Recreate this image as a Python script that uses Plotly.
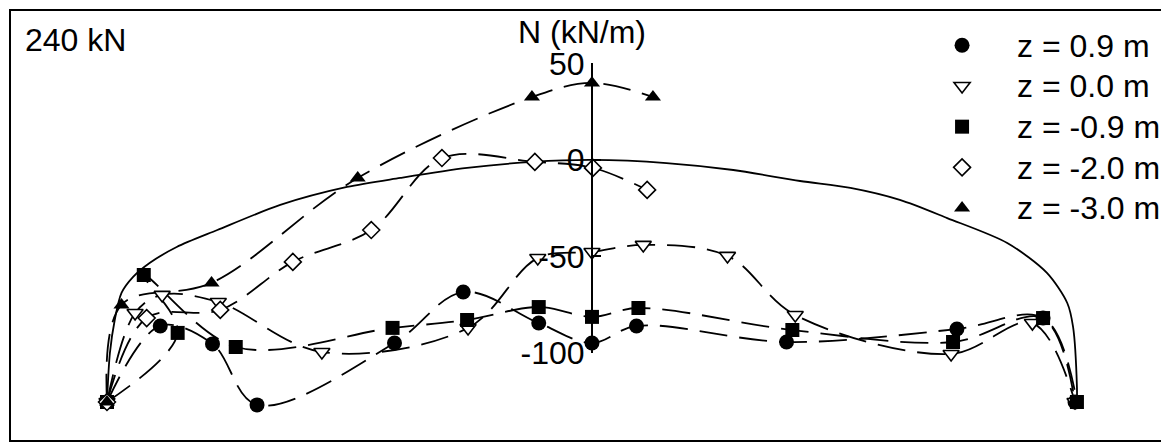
import plotly.graph_objects as go

# ---- data: position along the lining span (m) and normal force N (kN/m) ----
x_z09 = [-5.01, -4.46, -3.92, -3.46, -2.04, -1.33, -0.55, 0.00, 0.46, 2.01, 3.77, 4.66, 4.99]
n_z09 = [-125.4, -86.0, -95.3, -126.9, -94.8, -68.4, -84.5, -94.8, -86.0, -94.3, -87.6, -81.9, -125.4]

x_z00 = [-5.01, -4.72, -4.44, -3.86, -2.79, -1.28, -0.56, 0.00, 0.53, 1.40, 2.10, 3.71, 4.55, 4.99]
n_z00 = [-125.4, -79.3, -69.9, -73.6, -99.5, -87.0, -50.8, -47.7, -44.0, -49.7, -80.3, -100.5, -84.5, -125.4]

x_zm09 = [-5.01, -4.28, -4.63, -3.68, -2.06, -1.29, -0.55, 0.00, 0.48, 2.07, 3.73, 4.66, 5.01]
n_zm09 = [-125.4, -89.6, -59.6, -96.9, -87.0, -82.9, -76.2, -81.3, -76.7, -88.1, -94.3, -81.9, -125.4]

x_zm20 = [-5.01, -4.60, -3.84, -3.09, -2.28, -1.55, -0.59, 0.01, 0.57]
n_zm20 = [-125.4, -81.9, -77.7, -52.8, -36.3, 1.0, -1.0, -4.1, -15.5]

x_zm30 = [-5.01, -4.86, -3.93, -2.42, -0.62, 0.00, 0.63]
n_zm30 = [-125.4, -75.1, -63.7, -9.3, 32.6, 39.9, 32.6]

# reference lining (zero line)
x_lining = [-5.01, -4.98, -4.93, -4.86, -4.74, -4.57, -4.29, -3.87, -3.22, -2.53, -1.98, -1.29,
            -0.61, 0.00, 0.77, 1.46, 2.15, 2.67, 3.18, 3.67, 4.29, 4.70, 4.91, 4.97, 5.01, 5.01]
n_lining = [-125.4, -100.0, -82.9, -68.9, -60.6, -53.4, -45.1, -36.3, -23.3, -14.0, -9.3, -4.1,
            -1.0, 0.0, -1.6, -5.2, -10.9, -14.5, -20.7, -30.1, -43.0, -58.5, -74.1, -86.5, -117.6, -125.4]

labels = ["z = 0.9 m", "z = 0.0 m", "z = -0.9 m", "z = -2.0 m", "z = -3.0 m"]
tick_vals = [50, 0, -50, -100]
load_label = "240 kN"
axis_title = "N (kN/m)"

FONT = "Liberation Sans, Arial, Helvetica, sans-serif"
x_range = [-6.012, 5.930]
y_range = [-145.6, 77.7]

series = [
    (x_z09, n_z09, dict(symbol="circle", size=15, color="black")),
    (x_z00, n_z00, dict(symbol="triangle-down", size=14, color="white", line=dict(color="black", width=1.6))),
    (x_zm09, n_zm09, dict(symbol="square", size=14, color="black")),
    (x_zm20, n_zm20, dict(symbol="diamond", size=13, color="white", line=dict(color="black", width=1.6))),
    (x_zm30, n_zm30, dict(symbol="triangle-up", size=14, color="black")),
]

fig = go.Figure()

fig.add_trace(go.Scatter(x=x_lining, y=n_lining, mode="lines",
                         line=dict(color="black", width=1.8, shape="spline", smoothing=0.8),
                         showlegend=False, hoverinfo="skip"))

for xs, ns, mk in series:
    fig.add_trace(go.Scatter(x=xs, y=ns, mode="lines",
                             line=dict(color="black", width=1.8, dash="28px,12px",
                                       shape="spline", smoothing=1.0),
                             showlegend=False, hoverinfo="skip"))

for (xs, ns, mk), lab in zip(series, labels):
    fig.add_trace(go.Scatter(x=xs, y=ns, mode="markers", marker=mk,
                             name='<span style="font-size:32px">' + lab + '</span>'))

# dummy trace to carry the visible N axis
fig.add_trace(go.Scatter(x=[0], y=[0], xaxis="x", yaxis="y2", mode="markers",
                         marker=dict(opacity=0), showlegend=False, hoverinfo="skip"))

pos = (0 - x_range[0]) / (x_range[1] - x_range[0])
d0 = (min(tick_vals) - y_range[0]) / (y_range[1] - y_range[0])
d1 = (max(tick_vals) - y_range[0]) / (y_range[1] - y_range[0])

# the page adds an 8px body margin, so the figure is shrunk to fit the window
fig.update_layout(
    width=1161, height=439,
    margin=dict(l=2, r=3, t=2, b=6, autoexpand=False),
    paper_bgcolor="white", plot_bgcolor="rgba(0,0,0,0)",
    font=dict(family=FONT, size=32, color="black"),
    xaxis=dict(range=x_range, visible=False, fixedrange=True),
    yaxis=dict(range=y_range, visible=False, fixedrange=True),
    yaxis2=dict(range=[min(tick_vals), max(tick_vals)], domain=[d0, d1], anchor="free",
                position=pos, side="left", showline=True, linecolor="black", linewidth=2,
                ticks="inside", ticklen=8, tickwidth=2, tickcolor="black",
                tickvals=tick_vals, ticktext=[str(v) for v in tick_vals],
                tickfont=dict(size=32, family=FONT), showgrid=False, zeroline=False,
                fixedrange=True),
    legend=dict(x=0.776, y=0.977, xanchor="left", yanchor="top", bgcolor="rgba(0,0,0,0)",
                font=dict(size=29, family=FONT), itemwidth=100, tracegroupgap=0),
    shapes=[dict(type="rect", xref="paper", yref="paper", x0=0, y0=0, x1=1, y1=1,
                 line=dict(color="black", width=2))],
    annotations=[
        dict(text=load_label, xref="paper", yref="paper", x=0.011, y=0.93,
             xanchor="left", yanchor="middle", showarrow=False, font=dict(size=32)),
        dict(text=axis_title, xref="x", yref="y", x=-0.10, y=(160 - 32) / 1.93,
             xanchor="center", yanchor="middle", showarrow=False, font=dict(size=32)),
    ],
)

fig.write_html("out.html")
